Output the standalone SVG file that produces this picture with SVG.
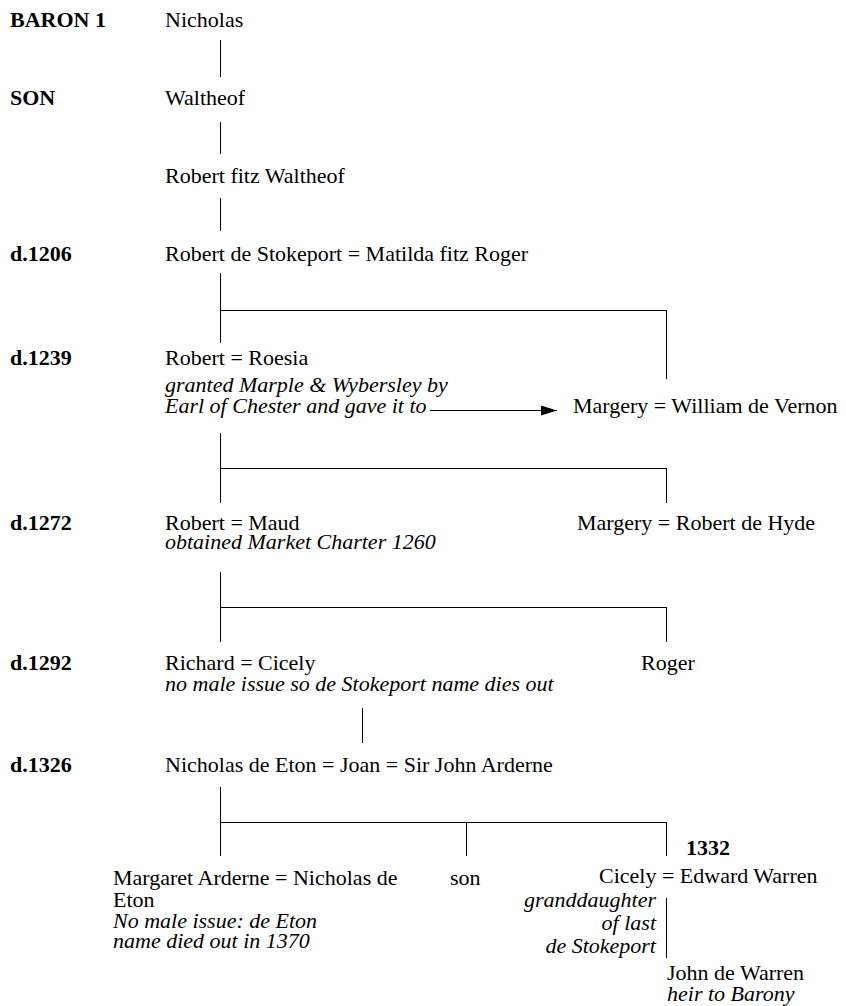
<svg xmlns="http://www.w3.org/2000/svg" width="846" height="1006" viewBox="0 0 846 1006">
<style>
text{font-family:'Liberation Serif','Times New Roman',Tinos,serif;font-size:22px;fill:#000}
.b{font-weight:bold}
.i{font-style:italic}
.r{text-anchor:end}
.c line{stroke:#000;stroke-width:1;fill:none}
</style>
<defs>
<marker id="ah" markerWidth="16" markerHeight="10" refX="16" refY="5" orient="auto" markerUnits="userSpaceOnUse">
<polygon points="0,0 16,5 0,10" fill="#000"/>
</marker>
</defs>
<rect width="846" height="1006" fill="#fff"/>
<g font-family="Liberation Serif, serif">
<g id="labels">
<text class="b" x="10" y="27">BARON 1</text>
<text class="b" x="10" y="105">SON</text>
<text class="b" x="10" y="261">d.1206</text>
<text class="b" x="10" y="365">d.1239</text>
<text class="b" x="10" y="530">d.1272</text>
<text class="b" x="10" y="670">d.1292</text>
<text class="b" x="10" y="772">d.1326</text>
<text class="b" x="686" y="855">1332</text>
</g>
<g id="n-nicholas"><text x="165" y="27">Nicholas</text></g>
<g id="n-waltheof"><text x="165" y="105">Waltheof</text></g>
<g id="n-robert-fitz"><text x="165" y="183">Robert fitz Waltheof</text></g>
<g id="n-robert-stokeport"><text x="165" y="261">Robert de Stokeport = Matilda fitz Roger</text></g>
<g id="n-robert-roesia">
<text x="165" y="365">Robert = Roesia</text>
<text class="i" x="165" y="392">granted Marple &amp; Wybersley by</text>
<text class="i" x="165" y="413">Earl of Chester and gave it to</text>
</g>
<g id="n-margery-vernon"><text x="573" y="413">Margery = William de Vernon</text></g>
<g id="n-robert-maud">
<text x="165" y="530">Robert = Maud</text>
<text class="i" x="165" y="549">obtained Market Charter 1260</text>
</g>
<g id="n-margery-hyde"><text x="577" y="530">Margery = Robert de Hyde</text></g>
<g id="n-richard-cicely">
<text x="165" y="670">Richard = Cicely</text>
<text class="i" x="165" y="691">no male issue so de Stokeport name dies out</text>
</g>
<g id="n-roger"><text x="641" y="670">Roger</text></g>
<g id="n-eton-joan"><text x="165" y="772">Nicholas de Eton = Joan = Sir John Arderne</text></g>
<g id="n-margaret">
<text x="113" y="885">Margaret Arderne = Nicholas de</text>
<text x="113" y="907">Eton</text>
<text class="i" x="113" y="928">No male issue: de Eton</text>
<text class="i" x="113" y="948">name died out in 1370</text>
</g>
<g id="n-son"><text x="450" y="885">son</text></g>
<g id="n-cicely-warren">
<text x="599" y="883">Cicely = Edward Warren</text>
<text class="i r" x="656" y="907">granddaughter</text>
<text class="i r" x="656" y="930">of last</text>
<text class="i r" x="656" y="953">de Stokeport</text>
</g>
<g id="n-john-warren">
<text x="667" y="980">John de Warren</text>
<text class="i" x="667" y="1001">heir to Barony</text>
</g>
</g>
<g id="connectors" class="c">
<line x1="220.5" y1="40" x2="220.5" y2="77"/>
<line x1="220.5" y1="122" x2="220.5" y2="154"/>
<line x1="220.5" y1="198" x2="220.5" y2="231"/>
<line x1="220.5" y1="273" x2="220.5" y2="343"/>
<line x1="220.5" y1="310.5" x2="667" y2="310.5"/>
<line x1="666.5" y1="310" x2="666.5" y2="379"/>
<line x1="430" y1="410.5" x2="557" y2="410.5" marker-end="url(#ah)"/>
<line x1="220.5" y1="433" x2="220.5" y2="503"/>
<line x1="220.5" y1="468.5" x2="667" y2="468.5"/>
<line x1="666.5" y1="468" x2="666.5" y2="503"/>
<line x1="220.5" y1="572" x2="220.5" y2="642"/>
<line x1="220.5" y1="607.5" x2="667" y2="607.5"/>
<line x1="666.5" y1="607" x2="666.5" y2="642"/>
<line x1="362.5" y1="708" x2="362.5" y2="743"/>
<line x1="220.5" y1="787" x2="220.5" y2="856"/>
<line x1="220.5" y1="822.5" x2="667" y2="822.5"/>
<line x1="466.5" y1="822" x2="466.5" y2="856"/>
<line x1="666.5" y1="822" x2="666.5" y2="856"/>
<line x1="666.5" y1="898" x2="666.5" y2="958"/>
</g>
</svg>
